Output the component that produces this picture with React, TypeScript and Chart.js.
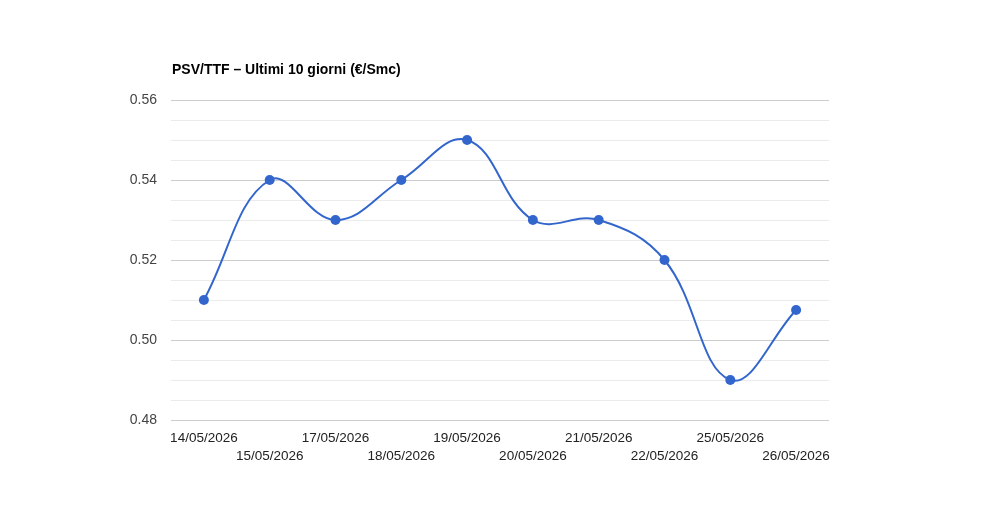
import { useEffect, useRef } from "react"
import { Chart, registerables } from "chart.js"

Chart.register(...registerables)

const dates = [
  "14/05/2026",
  "15/05/2026",
  "17/05/2026",
  "18/05/2026",
  "19/05/2026",
  "20/05/2026",
  "21/05/2026",
  "22/05/2026",
  "25/05/2026",
  "26/05/2026",
]
const psvTtf = [0.51, 0.54, 0.53, 0.54, 0.55, 0.53, 0.53, 0.52, 0.49, 0.5075]
const yMin = 0.48
const yMax = 0.56
const minorStep = 0.005
const majorStep = 0.02

const chartTitle = "PSV/TTF – Ultimi 10 giorni (€/Smc)"
const FONT = "'Liberation Sans', Arial, sans-serif"
const BLUE = "#3366cc"

const isMajor = (v: number) => Math.abs(Math.round(v / majorStep) * majorStep - v) < 1e-6

// draws the title left-aligned with the plot area, as in the original
const titlePlugin = {
  id: "leftTitle",
  afterDraw(chart: Chart) {
    const { ctx, chartArea } = chart
    ctx.save()
    ctx.font = `bold 14px ${FONT}`
    ctx.fillStyle = "#000"
    ctx.textAlign = "left"
    ctx.textBaseline = "middle"
    ctx.fillText(chartTitle, chartArea.left + 1, chartArea.top - 30)
    ctx.restore()
  },
}

export default function App() {
  const chartRef = useRef<HTMLCanvasElement>(null)
  const chartInstance = useRef<Chart | null>(null)

  useEffect(() => {
    if (!chartRef.current) return
    const ctx = chartRef.current.getContext("2d")
    if (!ctx) return

    if (chartInstance.current) {
      chartInstance.current.destroy()
    }

    chartInstance.current = new Chart(ctx, {
      type: "line",
      data: {
        labels: dates,
        datasets: [
          {
            data: psvTtf,
            borderColor: BLUE,
            backgroundColor: BLUE,
            borderWidth: 2,
            pointRadius: 5,
            pointBorderWidth: 0,
            pointBackgroundColor: BLUE,
            tension: 0.4,
            fill: false,
          },
        ],
      },
      options: {
        animation: false,
        responsive: true,
        maintainAspectRatio: false,
        layout: {
          padding: { left: 100, right: 171, top: 100, bottom: 0 },
        },
        plugins: {
          legend: { display: false },
          title: { display: false },
          tooltip: { enabled: false },
        },
        scales: {
          x: {
            offset: true,
            grid: { display: false },
            border: { display: false },
            afterFit: (scale: any) => {
              scale.height = 100
            },
            ticks: {
              autoSkip: false,
              maxRotation: 0,
              padding: 1,
              color: "#222",
              font: { family: FONT, size: 13.5, lineHeight: 18 / 13.5 },
              callback: (_v: any, i: number) => (i % 2 === 0 ? dates[i] : ["", dates[i]]),
            },
          },
          y: {
            min: yMin,
            max: yMax,
            border: { display: false },
            afterFit: (scale: any) => {
              scale.width = 71
            },
            grid: {
              drawTicks: false,
              color: (c: any) => (isMajor(c.tick.value) ? "#cccccc" : "#ebebeb"),
              lineWidth: 1,
            },
            ticks: {
              stepSize: minorStep,
              maxTicksLimit: 30,
              autoSkip: false,
              padding: 14,
              color: "#444",
              font: { family: FONT, size: 14 },
              callback: (v: any) => (isMajor(Number(v)) ? Number(v).toFixed(2) : ""),
            },
          },
        },
      },
      plugins: [titlePlugin],
    })

    return () => {
      if (chartInstance.current) {
        chartInstance.current.destroy()
        chartInstance.current = null
      }
    }
  }, [])

  return (
    <div style={{ position: "absolute", left: 0, top: 0, width: 1000, height: 520, background: "#fff" }}>
      <canvas ref={chartRef} />
    </div>
  )
}
